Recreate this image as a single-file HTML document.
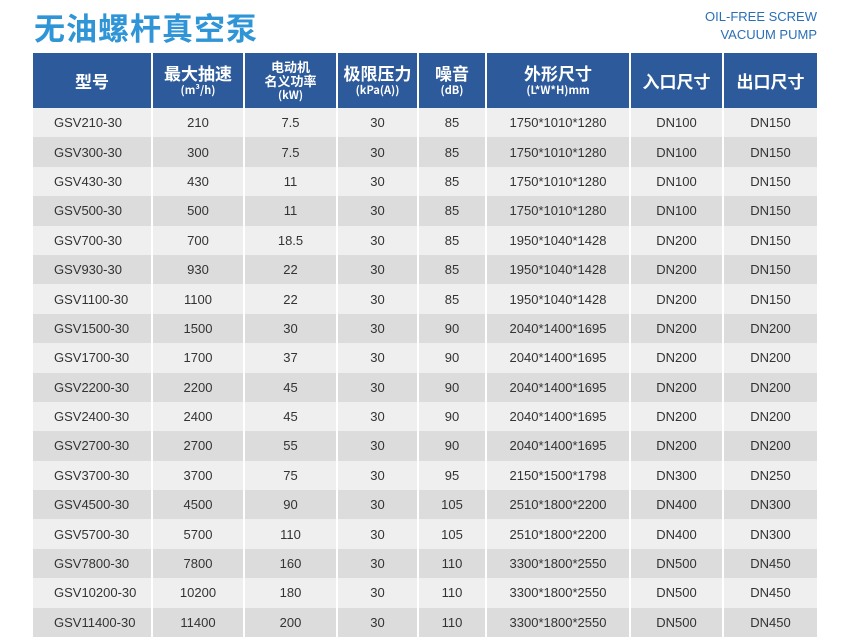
<!DOCTYPE html>
<html><head><meta charset="utf-8"><style>
body{margin:0;width:850px;height:640px;background:#fff;overflow:hidden;position:relative;font-family:"Liberation Sans","Noto Sans CJK SC",sans-serif}
.title{position:absolute;left:34px;top:4px;font-size:31px;font-weight:bold;color:#2f95d6;letter-spacing:1px;font-family:"Noto Sans CJK SC",sans-serif}
.en{position:absolute;right:33px;top:8px;text-align:right;font-size:13px;color:#2a6fb6;line-height:18px}
table{position:absolute;left:33px;top:53px;border-collapse:collapse;table-layout:fixed;width:784px}
th{background:#2d5a9b;color:#fff;height:55px;padding:0;border-left:2px solid #fff;font-family:"Noto Sans CJK SC",sans-serif;font-weight:bold;font-size:17px;line-height:19px}
th small{display:block;font-size:11px;line-height:15px;font-weight:bold;margin-top:1px}
th.s{font-size:13px;line-height:14px}
th.s small{margin-top:0;line-height:14px}
th:first-child,td:first-child{border-left:none}
td{height:29.4px;padding:0;text-align:center;font-size:13px;color:#333;border-left:2px solid #fff}
td:first-child{text-align:left;padding-left:21px}
tr:nth-child(odd) td{background:#efefef}
tr:nth-child(even) td{background:#dcdcdc}
</style></head><body>
<div class="title">无油螺杆真空泵</div>
<div class="en">OIL-FREE SCREW<br>VACUUM PUMP</div>
<table>
<colgroup><col style="width:119px"><col style="width:92px"><col style="width:93px"><col style="width:81px"><col style="width:68px"><col style="width:144px"><col style="width:93px"><col style="width:94px"></colgroup>
<thead><tr><th>型号</th><th>最大抽速<small>(m³/h)</small></th><th class="s">电动机<br>名义功率<small>(kW)</small></th><th>极限压力<small>(kPa(A))</small></th><th>噪音<small>(dB)</small></th><th>外形尺寸<small>(L*W*H)mm</small></th><th>入口尺寸</th><th>出口尺寸</th></tr></thead>
<tbody>
<tr><td>GSV210-30</td><td>210</td><td>7.5</td><td>30</td><td>85</td><td>1750*1010*1280</td><td>DN100</td><td>DN150</td></tr>
<tr><td>GSV300-30</td><td>300</td><td>7.5</td><td>30</td><td>85</td><td>1750*1010*1280</td><td>DN100</td><td>DN150</td></tr>
<tr><td>GSV430-30</td><td>430</td><td>11</td><td>30</td><td>85</td><td>1750*1010*1280</td><td>DN100</td><td>DN150</td></tr>
<tr><td>GSV500-30</td><td>500</td><td>11</td><td>30</td><td>85</td><td>1750*1010*1280</td><td>DN100</td><td>DN150</td></tr>
<tr><td>GSV700-30</td><td>700</td><td>18.5</td><td>30</td><td>85</td><td>1950*1040*1428</td><td>DN200</td><td>DN150</td></tr>
<tr><td>GSV930-30</td><td>930</td><td>22</td><td>30</td><td>85</td><td>1950*1040*1428</td><td>DN200</td><td>DN150</td></tr>
<tr><td>GSV1100-30</td><td>1100</td><td>22</td><td>30</td><td>85</td><td>1950*1040*1428</td><td>DN200</td><td>DN150</td></tr>
<tr><td>GSV1500-30</td><td>1500</td><td>30</td><td>30</td><td>90</td><td>2040*1400*1695</td><td>DN200</td><td>DN200</td></tr>
<tr><td>GSV1700-30</td><td>1700</td><td>37</td><td>30</td><td>90</td><td>2040*1400*1695</td><td>DN200</td><td>DN200</td></tr>
<tr><td>GSV2200-30</td><td>2200</td><td>45</td><td>30</td><td>90</td><td>2040*1400*1695</td><td>DN200</td><td>DN200</td></tr>
<tr><td>GSV2400-30</td><td>2400</td><td>45</td><td>30</td><td>90</td><td>2040*1400*1695</td><td>DN200</td><td>DN200</td></tr>
<tr><td>GSV2700-30</td><td>2700</td><td>55</td><td>30</td><td>90</td><td>2040*1400*1695</td><td>DN200</td><td>DN200</td></tr>
<tr><td>GSV3700-30</td><td>3700</td><td>75</td><td>30</td><td>95</td><td>2150*1500*1798</td><td>DN300</td><td>DN250</td></tr>
<tr><td>GSV4500-30</td><td>4500</td><td>90</td><td>30</td><td>105</td><td>2510*1800*2200</td><td>DN400</td><td>DN300</td></tr>
<tr><td>GSV5700-30</td><td>5700</td><td>110</td><td>30</td><td>105</td><td>2510*1800*2200</td><td>DN400</td><td>DN300</td></tr>
<tr><td>GSV7800-30</td><td>7800</td><td>160</td><td>30</td><td>110</td><td>3300*1800*2550</td><td>DN500</td><td>DN450</td></tr>
<tr><td>GSV10200-30</td><td>10200</td><td>180</td><td>30</td><td>110</td><td>3300*1800*2550</td><td>DN500</td><td>DN450</td></tr>
<tr><td>GSV11400-30</td><td>11400</td><td>200</td><td>30</td><td>110</td><td>3300*1800*2550</td><td>DN500</td><td>DN450</td></tr>
</tbody></table>
</body></html>
